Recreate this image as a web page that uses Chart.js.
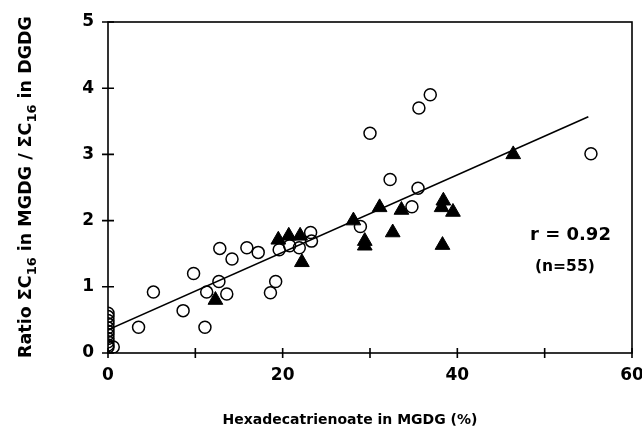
<!DOCTYPE html>
<html>
<head>
<meta charset="utf-8">
<script src="https://cdn.jsdelivr.net/npm/chart.js@4/dist/chart.umd.min.js"></script>
<style>
  html, body { margin: 0; padding: 0; background: #fff; }
  #wrap { width: 642px; height: 434px; }
</style>
</head>
<body>
<div id="wrap"><canvas id="chart"></canvas></div>
<script>
// open circles
const circleX = [0, 0, 0, 0, 0, 0, 0, 0, 0, 0, 0, 0.6,
    3.5, 5.2, 8.6, 9.8, 11.1, 11.3, 12.7, 13.6, 12.8, 14.2, 15.9, 17.2, 18.6, 19.2, 19.6,
    20.8, 21.9, 23.2, 23.3, 28.9, 30.0, 32.3, 34.8, 35.5, 35.6, 36.9, 55.3];
const circleY = [0.60, 0.55, 0.49, 0.44, 0.38, 0.33, 0.28, 0.22, 0.17, 0.12, 0.09, 0.09,
    0.39, 0.92, 0.64, 1.20, 0.39, 0.92, 1.08, 0.89, 1.58, 1.42, 1.59, 1.52, 0.91, 1.08, 1.56,
    1.62, 1.59, 1.82, 1.69, 1.91, 3.32, 2.62, 2.21, 2.49, 3.70, 3.90, 3.01];

// filled triangles
const triangleX = [12.3, 19.5, 20.7, 22.0, 22.2, 28.1, 29.4, 29.4, 31.1, 32.6, 33.6, 38.4, 38.2, 39.5, 38.3, 46.4];
const triangleY = [0.80, 1.71, 1.77, 1.77, 1.37, 2.00, 1.69, 1.62, 2.20, 1.82, 2.16, 2.30, 2.20, 2.13, 1.63, 3.00];

// regression line end points
const fitX = [0, 55];
const fitY = [0.35, 3.57];

const xTicks = [0, 10, 20, 30, 40, 50, 60];
const yTicks = [0, 1, 2, 3, 4, 5];

const FONT = '"DejaVu Sans", sans-serif';

function toPoints(xs, ys) {
    return xs.map((x, i) => ({ x: x, y: ys[i] }));
}

// frame, tick crosses and texts
const decorations = {
    id: 'decorations',
    afterDraw(chart) {
        const ctx = chart.ctx;
        const a = chart.chartArea;
        const sx = chart.scales.x;
        const sy = chart.scales.y;
        ctx.save();
        ctx.strokeStyle = '#000';
        ctx.lineWidth = 1.6;
        ctx.strokeRect(a.left, a.top, a.right - a.left, a.bottom - a.top);
        ctx.beginPath();
        xTicks.forEach(v => {
            const px = sx.getPixelForValue(v);
            ctx.moveTo(px, a.bottom - 5);
            ctx.lineTo(px, a.bottom + 5);
        });
        yTicks.forEach(v => {
            const py = sy.getPixelForValue(v);
            ctx.moveTo(a.left - 6, py);
            ctx.lineTo(a.left + 6, py);
        });
        ctx.stroke();

        ctx.fillStyle = '#000';
        ctx.textBaseline = 'middle';
        ctx.textAlign = 'left';
        ctx.font = 'bold 18px ' + FONT;
        ctx.fillText('r = 0.92', 530, 235);
        ctx.font = 'bold 15.5px ' + FONT;
        ctx.fillText('(n=55)', 535, 267);

        ctx.textAlign = 'center';
        ctx.font = 'bold 14px ' + FONT;
        ctx.fillText('Hexadecatrienoate in MGDG (%)', 350, 420);

        // y title with subscripts
        const parts = [
            ['Ratio \u03A3C', false], ['16', true], [' in MGDG / \u03A3C', false], ['16', true], [' in DGDG', false]
        ];
        const big = 'bold 17.5px ' + FONT;
        const small = 'bold 13px ' + FONT;
        let total = 0;
        parts.forEach(p => { ctx.font = p[1] ? small : big; total += ctx.measureText(p[0]).width; });
        ctx.translate(26, 187);
        ctx.rotate(-Math.PI / 2);
        ctx.textAlign = 'left';
        let cx = -total / 2;
        parts.forEach(p => {
            ctx.font = p[1] ? small : big;
            ctx.fillText(p[0], cx, p[1] ? 7 : 0);
            cx += ctx.measureText(p[0]).width;
        });
        ctx.restore();
    }
};

new Chart(document.getElementById('chart'), {
    type: 'scatter',
    data: {
        datasets: [
            {
                type: 'line',
                data: toPoints(fitX, fitY),
                borderColor: '#000',
                borderWidth: 1.6,
                pointRadius: 0,
                fill: false
            },
            {
                data: toPoints(circleX, circleY),
                pointStyle: 'circle',
                pointRadius: 6,
                borderColor: '#000',
                borderWidth: 1.5,
                backgroundColor: 'rgba(0,0,0,0)'
            },
            {
                data: toPoints(triangleX, triangleY),
                pointStyle: 'triangle',
                pointRadius: 8.5,
                borderColor: '#000',
                borderWidth: 1,
                backgroundColor: '#000'
            }
        ]
    },
    options: {
        responsive: true,
        maintainAspectRatio: false,
        animation: false,
        layout: { padding: { top: 22, right: 10, left: 0, bottom: 0 } },
        plugins: {
            legend: { display: false },
            tooltip: { enabled: false }
        },
        scales: {
            x: {
                type: 'linear',
                min: 0,
                max: 60,
                grid: { display: false, drawTicks: false },
                border: { display: false },
                afterFit: s => { s.height = 81; s.paddingLeft = 0; s.paddingRight = 0; },
                ticks: {
                    stepSize: 10,
                    padding: 12,
                    color: '#000',
                    font: { family: FONT, size: 17, weight: 'bold' },
                    maxRotation: 0,
                    callback: v => (v % 20 === 0 ? v : '')
                }
            },
            y: {
                min: 0,
                max: 5,
                grid: { display: false, drawTicks: false },
                border: { display: false },
                afterFit: s => { s.width = 108; s.paddingTop = 0; s.paddingBottom = 0; },
                ticks: {
                    stepSize: 1,
                    padding: 14,
                    color: '#000',
                    font: { family: FONT, size: 17, weight: 'bold' }
                }
            }
        }
    },
    plugins: [decorations]
});
</script>
</body>
</html>
